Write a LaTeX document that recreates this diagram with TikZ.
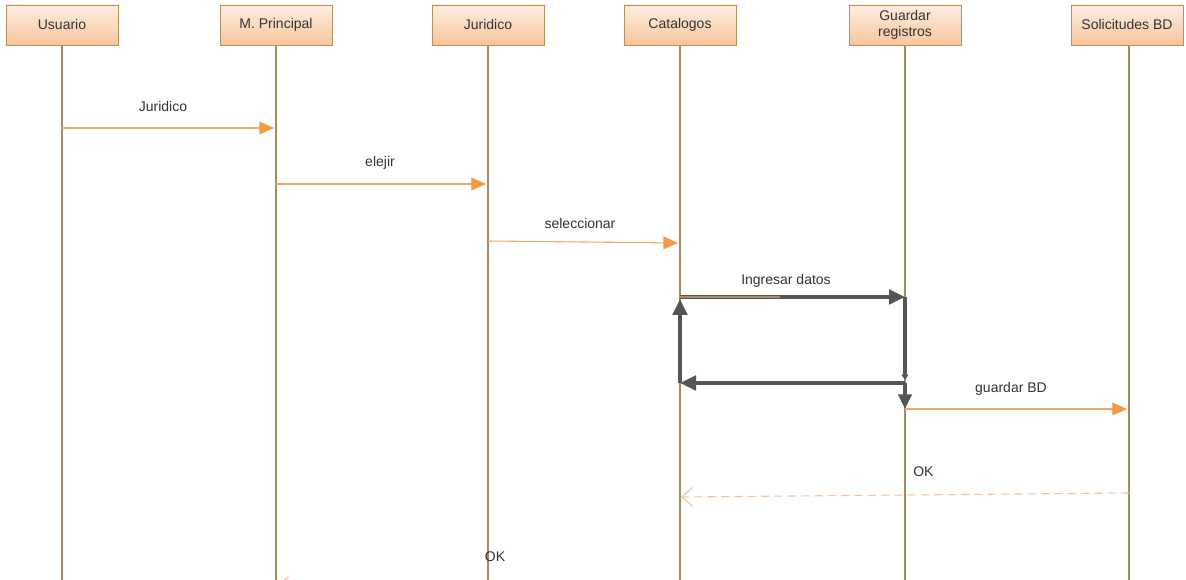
\documentclass[tikz,border=0pt]{standalone}
\usepackage{fontspec}
\setmainfont{Liberation Sans}
\usetikzlibrary{arrows.meta,positioning,calc}
\definecolor{boxline}{HTML}{B8925A}
\definecolor{boxtop}{HTML}{FDEEE2}
\definecolor{boxbot}{HTML}{F8C59A}
\definecolor{lifeline}{HTML}{A88B5E}
\definecolor{msgline}{HTML}{F2A868}
\definecolor{msghead}{HTML}{F39A45}
\definecolor{retline}{HTML}{F5C09A}
\definecolor{loopgray}{HTML}{555555}
\definecolor{txt}{HTML}{333333}
\tikzset{
  actor/.style={draw=boxline, top color=boxtop, bottom color=boxbot,
    minimum width=84pt, minimum height=30pt, align=center, text=txt,
    font=\fontsize{10.5}{12}\selectfont, inner sep=1pt},
  life/.style={draw=lifeline, line width=0.8pt},
  msg/.style={draw=msgline, line width=0.8pt,
    -{Triangle[length=11pt,width=9.5pt,color=msghead]}},
  ret/.style={draw=retline, line width=0.8pt, dash pattern=on 6pt off 4pt,
    -{Straight Barb[length=8pt,width=14pt,color=retline]}},
  loopline/.style={draw=loopgray, line width=2.6pt},
  lbl/.style={text=txt, font=\fontsize{10.5}{12}\selectfont, inner sep=0pt}
}
\begin{document}
\begin{tikzpicture}[x=0.75pt,y=-0.75pt]
\useasboundingbox (0,0) rectangle (1186,580);
\clip (0,0) rectangle (1186,580);
\fill[white] (0,0) rectangle (1186,580);
% participants
\node[actor] (usr) at (62,25) {Usuario};
\node[actor] (mp) at (276,25) {M. Principal};
\node[actor] (jur) at (488,25) {Juridico};
\node[actor] (cat) at (680,25) {Catalogos};
\node[actor] (grd) at (905,25) {Guardar\\registros};
\node[actor] (sol) at (1127,25) {Solicitudes BD};
% lifelines
\coordinate (usr-end) at (62,580);
\coordinate (mp-end) at (276,580);
\coordinate (jur-end) at (488,580);
\coordinate (cat-end) at (680,580);
\coordinate (grd-end) at (905,580);
\coordinate (sol-end) at (1129,580);
\draw[life] (usr.south) -- (usr-end);
\draw[life] (mp.south) -- (mp-end);
\draw[life] (jur.south) -- (jur-end);
\draw[life] (cat.south) -- (cat-end);
\draw[life] (grd.south) -- (grd-end);
\draw[life] (sol.south -| sol-end) -- (sol-end);
% messages
\coordinate (m1a) at (62,128);  \coordinate (m1b) at (274,128);
\coordinate (m2a) at (276,184); \coordinate (m2b) at (486,184);
\coordinate (m3a) at (488,241); \coordinate (m3b) at (678,243);
\draw[msg] (m1a) -- (m1b);
\draw[msg] (m2a) -- (m2b);
\draw[msg] (m3a) -- (m3b);
\node[lbl] (l1) at (163,107) {Juridico};
\node[lbl] (l2) at (380,163) {elejir};
\node[lbl] (l3) at (580,224) {seleccionar};
% loop
\coordinate (p1) at (680,297);
\coordinate (p2) at (905,297);
\coordinate (p3) at (905,383);
\coordinate (p4) at (680,383);
\coordinate (p5) at (905,409);
\draw[loopline, -{Triangle[length=12pt,width=11pt]}] (p1) -- (p2);
\draw[msgline!60!loopgray, line width=1.2pt] (p1) -- ++(100,0);
\draw[loopline, -{Triangle[length=4pt,width=5pt]}] (p2) -- ($(p3)+(0,-3)$);
\draw[loopline, -{Triangle[length=12pt,width=11pt]}] (p3) -- (p4);
\draw[loopline, -{Triangle[length=12pt,width=11pt]}] (p4) -- ($(p1)+(0,2)$);
\draw[loopline, -{Triangle[length=11pt,width=10pt]}] (p3) -- (p5);
\node[lbl] (l4) at (786,281) {Ingresar datos};
% guardar
\coordinate (m5b) at (1127,409);
\draw[msg] (p5) -- (m5b);
\node[lbl] (l5) at (1011,389) {guardar BD};
% returns
\coordinate (r1a) at (1129,493); \coordinate (r1b) at (681,497);
\draw[ret] (r1a) -- (r1b);
\node[lbl, anchor=west] (l6) at (913,472) {OK};
\coordinate (r2a) at (488,586); \coordinate (r2b) at (277,586);
\draw[ret] (r2a) -- (r2b);
\node[lbl] (l7) at (495,557) {OK};
\end{tikzpicture}
\end{document}
